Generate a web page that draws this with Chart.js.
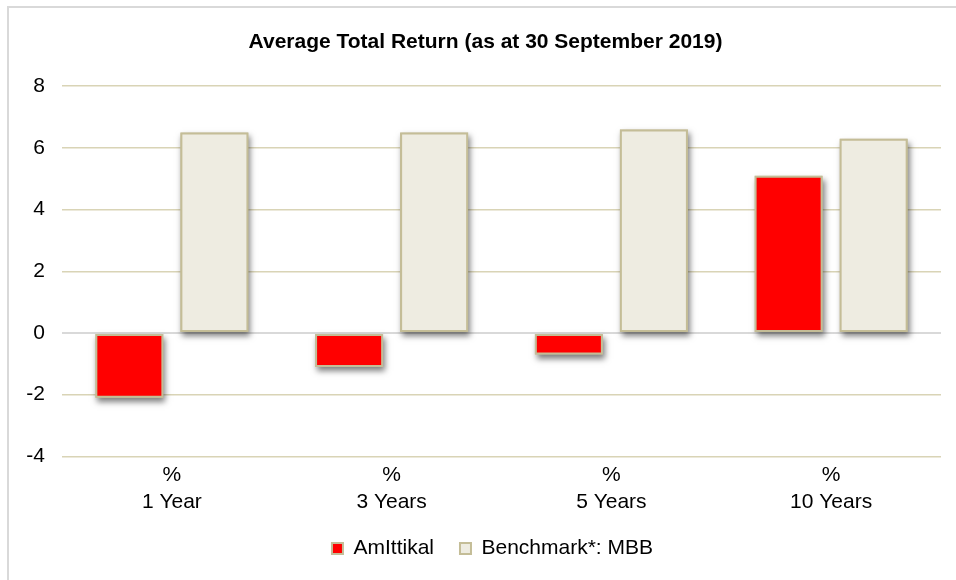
<!DOCTYPE html>
<html>
<head>
<meta charset="utf-8">
<script src="https://cdn.jsdelivr.net/npm/chart.js"></script>
<style>
  html, body { margin: 0; padding: 0; background: #fff; }
  #wrap { position: relative; width: 956px; height: 580px; }
</style>
</head>
<body>
<div id="wrap"><canvas id="myChart" width="956" height="580"></canvas></div>
<script>
// Data
const categories = [['%', '1 Year'], ['%', '3 Years'], ['%', '5 Years'], ['%', '10 Years']];
const amIttikal = [-2.1, -1.1, -0.7, 5.1];
const benchmark = [6.5, 6.5, 6.6, 6.3];
const yTicks = [-4, -2, 0, 2, 4, 6, 8];

const FONT = "'Liberation Sans', Arial, sans-serif";

// frame round the chart, like the Excel chart border
const framePlugin = {
  id: 'frame',
  beforeDraw(chart) {
    const ctx = chart.ctx;
    ctx.save();
    ctx.strokeStyle = '#d9d9d9';
    ctx.lineWidth = 2;
    ctx.strokeRect(8, 7, 1000, 700);
    ctx.restore();
  },
  // title and legend sit a little right of centre in the original
  afterLayout(chart) {
    if (chart.legend) {
      chart.legend.left += 22;
      chart.legend.right += 22;
      chart.legend.top -= 9;
      chart.legend.bottom -= 9;
    }
    if (chart.titleBlock) {
      chart.titleBlock.left += 15;
      chart.titleBlock.right += 15;
    }
  }
};

// soft drop shadow under each bar, from the bar elements' own positions
const shadowPlugin = {
  id: 'barShadow',
  beforeDatasetsDraw(chart) {
    const ctx = chart.ctx;
    ctx.save();
    ctx.shadowColor = 'rgba(0,0,0,0.5)';
    ctx.shadowBlur = 6;
    ctx.shadowOffsetX = 2;
    ctx.shadowOffsetY = 4;
    ctx.fillStyle = '#c4bd97';
    chart.data.datasets.forEach((ds, i) => {
      chart.getDatasetMeta(i).data.forEach(bar => {
        const p = bar.getProps(['x', 'y', 'base', 'width'], true);
        const top = Math.min(p.y, p.base);
        const h = Math.abs(p.base - p.y);
        ctx.fillRect(p.x - p.width / 2, top, p.width, h);
      });
    });
    ctx.restore();
  }
};

const data = {
  labels: categories,
  datasets: [{
    label: 'AmIttikal',
    data: amIttikal,
    backgroundColor: '#ff0000',
    borderColor: '#c4bd97',
    borderWidth: 2,
    borderSkipped: false
  }, {
    label: 'Benchmark*: MBB',
    data: benchmark,
    backgroundColor: '#eeece1',
    borderColor: '#c4bd97',
    borderWidth: 2,
    borderSkipped: false
  }]
};

const config = {
  type: 'bar',
  data: data,
  options: {
    responsive: false,
    animation: false,
    categoryPercentage: 0.774,
    barPercentage: 0.8,
    layout: { padding: { left: 0, right: 15, top: 0, bottom: 2 } },
    plugins: {
      title: {
        display: true,
        text: 'Average Total Return (as at 30 September 2019)',
        color: '#000',
        font: { family: FONT, size: 21, weight: 'bold' },
        padding: { top: 30, bottom: 31 }
      },
      legend: {
        position: 'bottom',
        labels: {
          color: '#000',
          font: { family: FONT, size: 21 },
          boxWidth: 11,
          boxHeight: 11,
          padding: 26
        }
      },
      tooltip: { enabled: false }
    },
    scales: {
      x: {
        grid: { display: false, drawTicks: false },
        border: { display: false },
        ticks: {
          color: '#000',
          font: { family: FONT, size: 21, lineHeight: 1.3 },
          padding: 5,
          maxRotation: 0
        }
      },
      y: {
        min: -4,
        max: 8,
        afterBuildTicks(axis) { axis.ticks = yTicks.map(v => ({ value: v })); },
        afterFit(axis) { axis.width = 62; },
        grid: {
          drawTicks: false,
          color: c => (c.tick && c.tick.value === 0) ? '#d9d9d9' : '#d9d4b6',
          lineWidth: c => (c.tick && c.tick.value === 0) ? 2 : 1.5
        },
        border: { display: false },
        ticks: {
          color: '#000',
          font: { family: FONT, size: 21 },
          padding: 17
        }
      }
    }
  },
  plugins: [framePlugin, shadowPlugin]
};

const myChart = new Chart(document.getElementById('myChart'), config);
</script>
</body>
</html>
